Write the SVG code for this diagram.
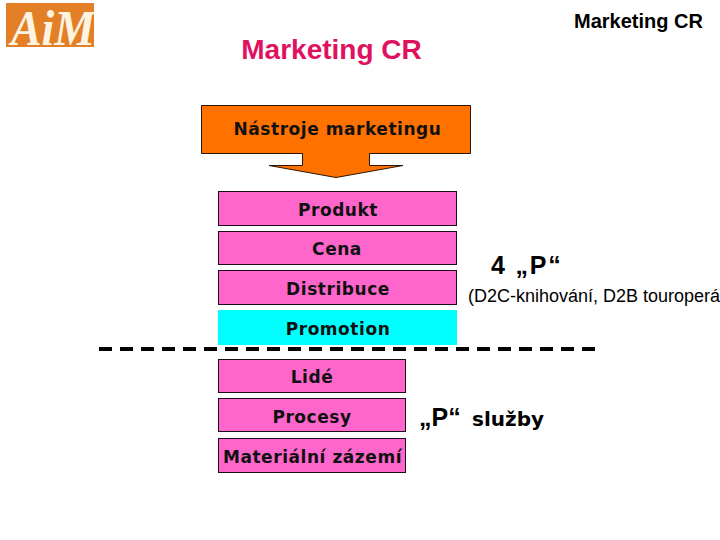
<svg xmlns="http://www.w3.org/2000/svg" width="720" height="540" viewBox="0 0 720 540">
<style>
.box{fill:#ff66cc;stroke:#1a0a1a;stroke-width:1}
.l{font-family:"DejaVu Sans",sans-serif;font-weight:bold;font-size:17px;letter-spacing:.55px;fill:#111;text-anchor:middle}
.a{font-family:"Liberation Sans",Arial,sans-serif;fill:#000}
</style>
<rect width="720" height="540" fill="#fff"/>
<g id="logo">
<rect x="6" y="3" width="88" height="44" fill="#e37f26"/>
<text x="11" y="45" font-family="Liberation Serif,serif" font-style="italic" font-weight="bold" font-size="50" fill="#fdf3e0" textLength="84" lengthAdjust="spacingAndGlyphs">AiM</text>
</g>
<text id="title-small" class="a" x="638.500" y="28" font-size="20" font-weight="bold" text-anchor="middle">Marketing CR</text>
<text id="title" class="a" x="331.500" y="59" font-size="28" font-weight="bold" text-anchor="middle" style="fill:#e0115f">Marketing CR</text>
<g id="tools">
<path d="M201.500 105.500H470.500V153.500H369.500V165.500L403 165.500L336 177.500L269 165.500H302.500V153.500H201.500Z" fill="#ff7200" stroke="#2a1500" stroke-width="1"/>
<text class="l" x="337.500" y="135">Nástroje marketingu</text>
</g>
<g id="produkt"><rect class="box" x="218.500" y="191.500" width="238" height="34"/><text class="l" x="338" y="216">Produkt</text></g>
<g id="cena"><rect class="box" x="218.500" y="231.500" width="238" height="33"/><text class="l" x="337" y="255">Cena</text></g>
<g id="distribuce"><rect class="box" x="218.500" y="270.500" width="238" height="34"/><text class="l" x="338" y="295">Distribuce</text></g>
<g id="promotion"><rect x="218" y="310" width="239" height="35" fill="#00ffff"/><text class="l" x="338" y="335">Promotion</text></g>
<g id="connectors"><line x1="99" y1="349" x2="596" y2="349" stroke="#000" stroke-width="4" stroke-dasharray="13 8"/></g>
<g id="lide"><rect class="box" x="218.500" y="359.500" width="187" height="33"/><text class="l" x="312" y="383">Lidé</text></g>
<g id="procesy"><rect class="box" x="218.500" y="398.500" width="187" height="33"/><text class="l" x="312" y="423">Procesy</text></g>
<g id="zazemi"><rect class="box" x="218.500" y="438.500" width="187" height="34"/><text class="l" x="312.500" y="463">Materiální zázemí</text></g>
<text id="p4" class="a" x="491" y="274" font-size="25" font-weight="bold" letter-spacing="1.800">4 „P“</text>
<text id="d2c" class="a" x="468" y="302" font-size="18">(D2C-knihování, D2B touroperá</text>
<text id="psluzby" x="419" y="426" font-family="DejaVu Sans,sans-serif" font-weight="bold" font-size="20" fill="#000"><tspan font-family="Liberation Sans,sans-serif" font-size="25">„P“</tspan><tspan x="472">služby</tspan></text>
</svg>
